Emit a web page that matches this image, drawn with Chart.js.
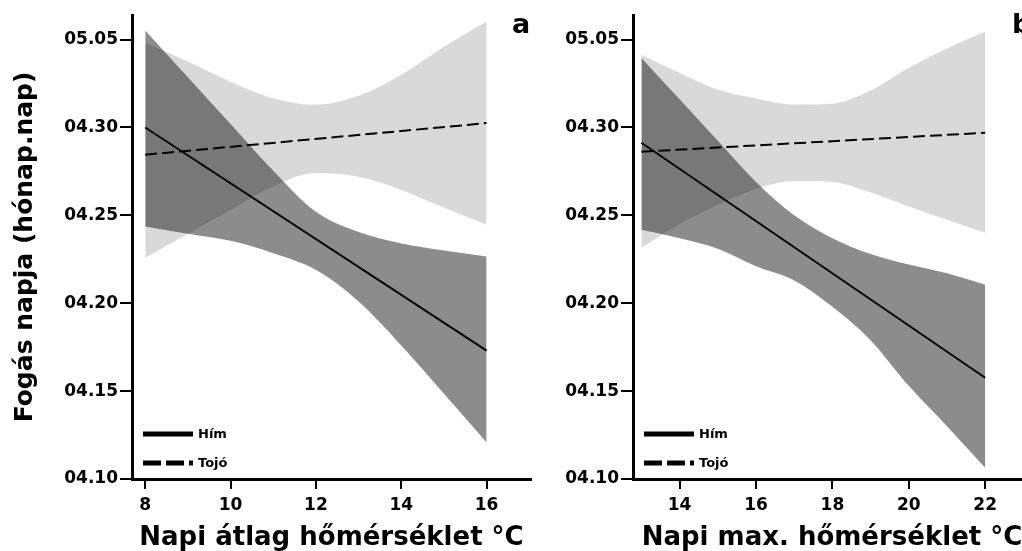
<!DOCTYPE html>
<html>
<head>
<meta charset="utf-8">
<script src="https://cdn.jsdelivr.net/npm/chart.js@4.4.1/dist/chart.umd.min.js"></script>
<style>
  html, body { margin: 0; padding: 0; background: #fff; overflow: hidden; width: 1022px; height: 551px; }
  #panelA { position: absolute; left: 0; top: 0; }
  #panelB { position: absolute; left: 548px; top: 0; }
</style>
</head>
<body>
<canvas id="panelA" width="548" height="551"></canvas>
<canvas id="panelB" width="500" height="551"></canvas>
<script>
// y is days after 04.10 (04.10 = 0 ... 05.05 = 25)
const yTickValues = [0, 5, 10, 15, 20, 25];
const yTickLabels = ['04.10', '04.15', '04.20', '04.25', '04.30', '05.05'];
const yTitle = 'Fogás napja (hónap.nap)';
const seriesNames = ['Hím', 'Tojó'];

// panel a: daily mean temperature
const tempA = [8, 9, 10, 11, 12, 13, 14, 15, 16];
const xTicksA = [8, 10, 12, 14, 16];
const lineEndsA = [8, 16];
const maleFitA = [20.0, 7.3];
const femaleFitA = [18.45, 20.25];
const maleHiA = [25.52, 22.86, 20.2, 17.54, 15.2, 14.05, 13.4, 13.0, 12.66];
const maleLoA = [14.37, 13.95, 13.55, 12.85, 11.9, 10.1, 7.6, 4.85, 2.08];
const femaleHiA = [24.8, 23.75, 22.6, 21.65, 21.29, 21.8, 23.0, 24.6, 26.03];
const femaleLoA = [12.57, 13.95, 15.3, 16.65, 17.41, 17.2, 16.45, 15.44, 14.47];

// panel b: daily max temperature
const tempB = [13, 14, 15, 16, 17, 18, 19, 20, 21, 22];
const xTicksB = [14, 16, 18, 20, 22];
const lineEndsB = [13, 22];
const maleFitB = [19.13, 5.76];
const femaleFitB = [18.62, 19.7];
const maleHiB = [23.96, 21.6, 19.24, 16.9, 15.0, 13.7, 12.8, 12.2, 11.7, 11.05];
const maleLoB = [14.18, 13.7, 13.1, 12.1, 11.3, 9.8, 7.9, 5.3, 3.0, 0.64];
const femaleHiB = [24.14, 23.1, 22.16, 21.65, 21.3, 21.35, 22.1, 23.4, 24.5, 25.44];
const femaleLoB = [13.16, 14.5, 15.6, 16.5, 16.95, 16.9, 16.3, 15.5, 14.75, 14.01];

const FONT = '"DejaVu Sans", Verdana, sans-serif';

function pts(xs, ys) {
    return xs.map((x, i) => ({ x: x, y: ys[i] }));
}

// legend lines + panel letter drawn inside the plot
const insideLegend = {
    id: 'insideLegend',
    afterDraw(chart, args, opts) {
        const { ctx, chartArea } = chart;
        const rows = chart.data.datasets.filter(d => d.legendText);
        ctx.save();
        rows.forEach((d, i) => {
            const y = chartArea.bottom - 45 + i * 29;
            ctx.beginPath();
            ctx.setLineDash(d.borderDash ? [18, 5] : []);
            ctx.lineWidth = 5;
            ctx.strokeStyle = '#000';
            ctx.moveTo(chartArea.left + 11, y);
            ctx.lineTo(chartArea.left + 61, y);
            ctx.stroke();
            ctx.setLineDash([]);
            ctx.fillStyle = '#000';
            ctx.font = 'bold 13px ' + FONT;
            ctx.textBaseline = 'middle';
            ctx.fillText(d.legendText, chartArea.left + 66, y + 1);
        });
        ctx.font = 'bold 27px ' + FONT;
        ctx.textBaseline = 'alphabetic';
        ctx.fillStyle = '#000';
        ctx.fillText(opts.letter, chartArea.right - 19, 33);
        ctx.restore();
    }
};

function buildChart(id, p) {
    const band = { borderColor: 'rgba(0,0,0,0)', borderWidth: 0, pointRadius: 0, cubicInterpolationMode: 'monotone' };
    return new Chart(document.getElementById(id), {
        type: 'line',
        data: {
            datasets: [
                { legendText: seriesNames[0], data: pts(p.lineX, p.male), borderColor: '#000', borderWidth: 2, pointRadius: 0, fill: false },
                { legendText: seriesNames[1], data: pts(p.lineX, p.female), borderColor: '#000', borderWidth: 2, borderDash: [12, 5], pointRadius: 0, fill: false },
                Object.assign({ data: pts(p.temp, p.femaleHi), fill: '+1', backgroundColor: 'rgba(0,0,0,0.15)' }, band),
                Object.assign({ data: pts(p.temp, p.femaleLo), fill: false }, band),
                Object.assign({ data: pts(p.temp, p.maleHi), fill: '+1', backgroundColor: 'rgba(0,0,0,0.45)' }, band),
                Object.assign({ data: pts(p.temp, p.maleLo), fill: false }, band)
            ]
        },
        plugins: [insideLegend],
        options: {
            responsive: false,
            animation: false,
            layout: { padding: { top: 15, right: 17, left: 0, bottom: 0 } },
            plugins: {
                legend: { display: false },
                tooltip: { enabled: false },
                insideLegend: { letter: p.letter }
            },
            scales: {
                x: {
                    type: 'linear',
                    min: p.xMin,
                    max: p.xMax,
                    afterBuildTicks: s => { s.ticks = p.xTicks.map(v => ({ value: v })); },
                    afterFit: s => { s.height = 72; },
                    border: { display: true, color: '#000', width: 3 },
                    grid: { display: true, drawOnChartArea: false, drawTicks: true, tickLength: 10, color: '#000', lineWidth: 2 },
                    ticks: { color: '#000', padding: 6, maxRotation: 0, font: { family: FONT, size: 17, weight: 'bold' } },
                    title: { display: true, text: p.xTitle, color: '#000', padding: { top: 0, bottom: 0 },
                             font: { family: FONT, size: 26, weight: 'bold', lineHeight: 1 } }
                },
                y: {
                    type: 'linear',
                    min: 0,
                    max: 26.4,
                    afterBuildTicks: s => { s.ticks = yTickValues.map(v => ({ value: v })); },
                    afterFit: s => { s.width = p.yWidth; },
                    border: { display: true, color: '#000', width: 3 },
                    grid: { display: true, drawOnChartArea: false, drawTicks: true, tickLength: 12, color: '#000', lineWidth: 2 },
                    ticks: { color: '#000', padding: 2, font: { family: FONT, size: 17, weight: 'bold' },
                             callback: (v, i) => yTickLabels[i] },
                    title: { display: p.showYTitle, text: yTitle, color: '#000', padding: { top: 10, bottom: 0 },
                             font: { family: FONT, size: 25, weight: 'bold', lineHeight: 1.2 } }
                }
            }
        }
    });
}

buildChart('panelA', {
    letter: 'a', temp: tempA, lineX: lineEndsA, xTicks: xTicksA, xMin: 7.69, xMax: 17.04,
    male: maleFitA, female: femaleFitA, maleHi: maleHiA, maleLo: maleLoA, femaleHi: femaleHiA, femaleLo: femaleLoA,
    xTitle: 'Napi átlag hőmérséklet °C', yWidth: 132, showYTitle: true
});

buildChart('panelB', {
    letter: 'b', temp: tempB, lineX: lineEndsB, xTicks: xTicksB, xMin: 12.78, xMax: 23.2,
    male: maleFitB, female: femaleFitB, maleHi: maleHiB, maleLo: maleLoB, femaleHi: femaleHiB, femaleLo: femaleLoB,
    xTitle: 'Napi max. hőmérséklet °C', yWidth: 85, showYTitle: false
});
</script>
</body>
</html>
